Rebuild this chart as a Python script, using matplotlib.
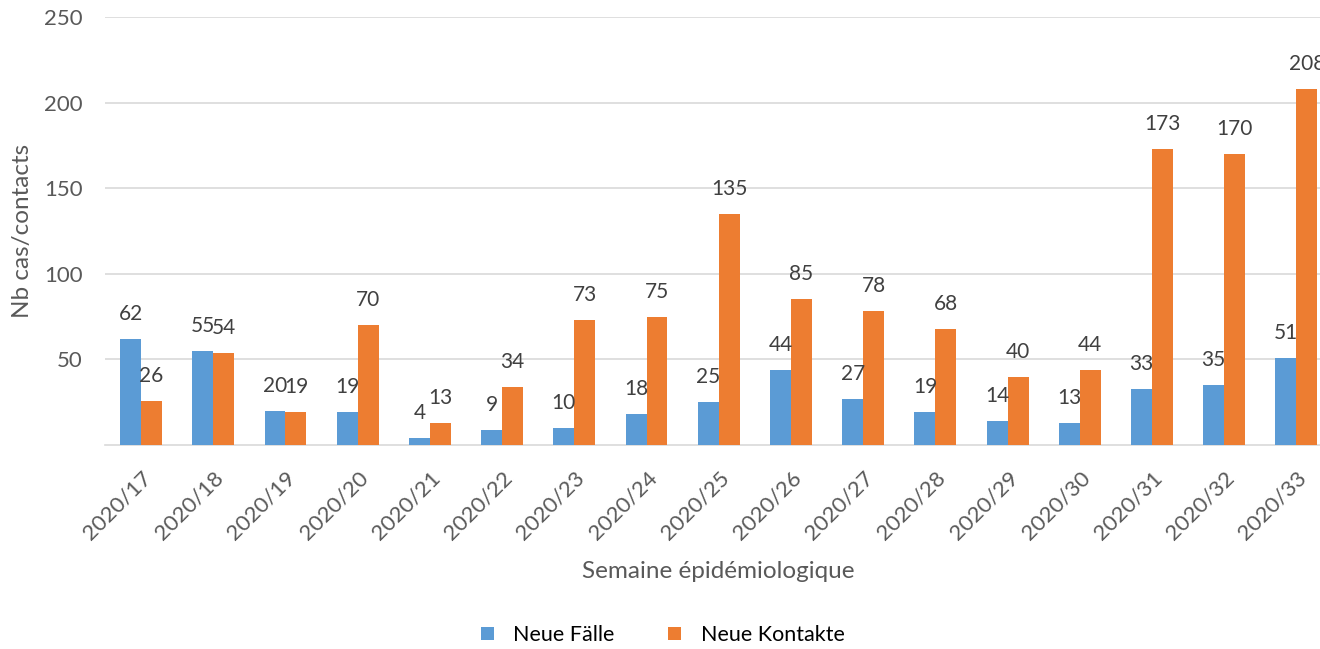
import matplotlib.pyplot as plt
import numpy as np

# Weekly counts of new cases and new contacts
weeks = ['2020/17', '2020/18', '2020/19', '2020/20', '2020/21', '2020/22',
         '2020/23', '2020/24', '2020/25', '2020/26', '2020/27', '2020/28',
         '2020/29', '2020/30', '2020/31', '2020/32', '2020/33']
new_cases = [62, 55, 20, 19, 4, 9, 10, 18, 25, 44, 27, 19, 14, 13, 33, 35, 51]
new_contacts = [26, 54, 19, 70, 13, 34, 73, 75, 135, 85, 78, 68, 40, 44,
                173, 170, 208]
y_ticks = [50, 100, 150, 200, 250]

BLUE = '#5B9BD5'
ORANGE = '#ED7D31'
TEXT = '#595959'

plt.rcParams['font.family'] = ['Lato', 'DejaVu Sans']

fig = plt.figure(figsize=(13.2, 6.49), dpi=100)
# axes extends a little past the right edge, so the last group is clipped
ax = fig.add_axes([0.0795, 0.3143, 0.93, 0.6595])

x = np.arange(len(weeks))
width = 0.29
bars_cases = ax.bar(x - width / 2, new_cases, width, color=BLUE,
                    label='Neue Fälle', zorder=3)
bars_contacts = ax.bar(x + width / 2, new_contacts, width, color=ORANGE,
                       label='Neue Kontakte', zorder=3)

for bars, values in ((bars_cases, new_cases), (bars_contacts, new_contacts)):
    for bar, val in zip(bars, values):
        ax.annotate(str(val),
                    (bar.get_x() + bar.get_width() / 2, bar.get_height()),
                    xytext=(0, 18), textcoords='offset points',
                    ha='center', va='center', fontsize=15,
                    color='#404040', zorder=4, annotation_clip=False,
                    clip_on=True)

ax.set_xlim(-0.5, len(weeks) - 0.5)
ax.set_ylim(0, 250)
ax.set_yticks(y_ticks)
ax.set_xticks(x)
ax.set_xticklabels(weeks, rotation=45, ha='right', rotation_mode='anchor')
ax.tick_params(axis='both', length=0, colors=TEXT)
ax.tick_params(axis='x', labelsize=16, pad=16)
ax.tick_params(axis='y', labelsize=16, pad=16)

ax.grid(axis='y', color='#D9D9D9', linewidth=1.2, zorder=0)
for side in ('top', 'right', 'left'):
    ax.spines[side].set_visible(False)
ax.spines['bottom'].set_color('#D9D9D9')
ax.spines['bottom'].set_linewidth(1.2)

ax.set_xlabel('Semaine épidémiologique', fontsize=17.5, color=TEXT, labelpad=13)
ax.set_ylabel('Nb cas/contacts', fontsize=17.5, color=TEXT, labelpad=8)

fig.legend(handles=[bars_cases, bars_contacts], loc='center',
           bbox_to_anchor=(0.502, 0.0215), ncol=2, frameon=False,
           fontsize=15.5, handlelength=0.6, handleheight=0.6,
           columnspacing=2.5, handletextpad=0.9)

fig.savefig('out.png', dpi=100)
